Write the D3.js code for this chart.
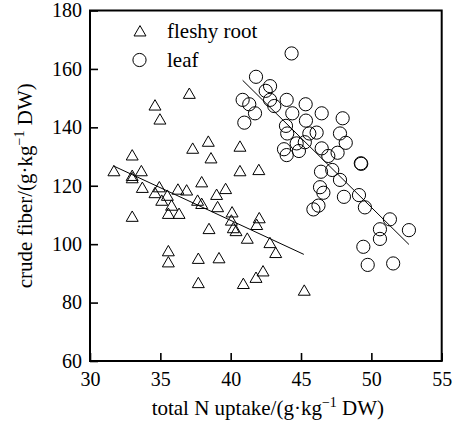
<!DOCTYPE html>
<html>
<head>
<meta charset="utf-8">
<script src="https://cdn.jsdelivr.net/npm/d3@7"></script>
<style>
  body { margin: 0; background: #fff; }
  svg { display: block; font-family: "Liberation Serif", "Times New Roman", serif; }
</style>
</head>
<body>
<div id="chart"></div>
<script>
// fleshy root: total N uptake vs crude fiber
var rootN = [31.7, 33.0, 33.0, 33.0, 33.0, 33.65, 33.72, 34.62, 34.97, 34.62, 34.93, 35.1, 35.5,
  35.57, 35.8, 36.33, 36.25, 36.87, 37.06, 37.3, 37.94, 37.65, 37.94, 35.57, 35.57, 37.7, 37.7,
  38.41, 38.6, 38.46, 39.0, 39.07, 39.17, 39.64, 40.1, 40.05, 40.19, 40.38, 40.66, 40.66, 41.18,
  40.9, 41.8, 42.0, 41.85, 42.03, 42.3, 42.79, 43.2, 45.23];
var rootFiber = [124.6, 130.0, 123.0, 122.2, 109.0, 124.6, 118.9, 147.1, 142.3, 117.1, 119.1, 114.5, 116.2,
  110.0, 112.8, 110.0, 118.3, 118.0, 151.1, 132.3, 120.8, 114.5, 113.4, 97.2, 93.4, 94.6, 86.3,
  134.7, 129.0, 104.8, 116.5, 112.3, 94.8, 118.5, 110.5, 107.7, 105.1, 104.1, 133.0, 124.6, 101.5,
  86.0, 88.1, 125.0, 106.2, 108.5, 90.3, 100.0, 96.6, 83.7];

// leaf
var leafN = [44.33, 41.8, 42.8, 42.49, 40.85, 41.32, 41.73, 40.97, 42.8, 43.1, 43.98, 44.38, 45.33,
  45.35, 46.47, 47.96, 43.93, 44.02, 45.59, 46.11, 43.79, 43.98, 44.69, 44.85, 45.27, 46.47, 46.94,
  47.6, 47.77, 48.18, 49.25, 49.28, 46.42, 47.22, 47.77, 46.35, 46.59, 46.24, 45.88, 48.05, 49.12, 49.54,
  50.61, 50.61, 51.32, 52.67, 49.43, 49.74, 51.55];
var leafFiber = [165.3, 157.3, 154.1, 152.5, 149.4, 147.9, 144.8, 141.6, 149.4, 147.3, 149.4, 144.8, 147.9,
  142.3, 144.8, 143.1, 140.5, 137.9, 137.9, 138.2, 132.5, 130.5, 134.5, 131.9, 134.9, 132.8, 130.2,
  131.3, 137.9, 134.7, 127.7, 127.5, 124.8, 125.4, 122.0, 119.5, 117.6, 113.2, 111.9, 116.2, 116.8, 112.6,
  105.1, 101.8, 108.5, 104.8, 99.1, 92.9, 93.4];

// fitted lines (end points)
var rootFitN = [31.66, 45.2];
var rootFitFiber = [126.8, 96.5];
var leafFitN = [40.85, 52.67];
var leafFitFiber = [156.1, 99.9];

var xTicks = [30, 35, 40, 45, 50, 55];
var yTicks = [60, 80, 100, 120, 140, 160, 180];

var width = 454, height = 431;
var margin = {top: 10.5, right: 12.3, bottom: 70, left: 90};

var svg = d3.select("#chart").append("svg")
  .attr("width", width)
  .attr("height", height);

var x = d3.scaleLinear().domain([30, 55]).range([margin.left, width - margin.right]);
var y = d3.scaleLinear().domain([60, 180]).range([height - margin.bottom, margin.top]);

// axes with inward ticks
var gx = svg.append("g")
  .attr("transform", "translate(0," + y(60) + ")")
  .call(d3.axisBottom(x).tickValues(xTicks).tickSize(-8).tickPadding(11));
var gy = svg.append("g")
  .attr("transform", "translate(" + x(30) + ",0)")
  .call(d3.axisLeft(y).tickValues(yTicks).tickSize(-8).tickPadding(8));

[gx, gy].forEach(function(g) {
  g.select(".domain").remove();
  g.selectAll(".tick line").attr("stroke", "#000").attr("stroke-width", 1.6);
  g.selectAll(".tick text")
    .attr("fill", "#000")
    .style("font-family", "'Liberation Serif', serif")
    .style("font-size", "20px");
});

// frame
svg.append("rect")
  .attr("x", x(30))
  .attr("y", y(180))
  .attr("width", x(55) - x(30))
  .attr("height", y(60) - y(180))
  .attr("fill", "none")
  .attr("stroke", "#000")
  .attr("stroke-width", 2);

// points
var rootData = rootN.map(function(d, i) { return {n: d, f: rootFiber[i]}; });
var leafData = leafN.map(function(d, i) { return {n: d, f: leafFiber[i]}; });

var tri = d3.symbol().type(d3.symbolTriangle).size(62);

svg.append("g").selectAll("path")
  .data(rootData)
  .enter().append("path")
    .attr("d", tri)
    .attr("transform", function(d) { return "translate(" + x(d.n) + "," + y(d.f) + ")"; })
    .attr("fill", "none")
    .attr("stroke", "#000")
    .attr("stroke-width", 1);

svg.append("g").selectAll("circle")
  .data(leafData)
  .enter().append("circle")
    .attr("cx", function(d) { return x(d.n); })
    .attr("cy", function(d) { return y(d.f); })
    .attr("r", 6.6)
    .attr("fill", "none")
    .attr("stroke", "#000")
    .attr("stroke-width", 1);

// fit lines
var line = d3.line()
  .x(function(d) { return x(d[0]); })
  .y(function(d) { return y(d[1]); });

svg.append("path")
  .attr("d", line(d3.zip(rootFitN, rootFitFiber)))
  .attr("fill", "none").attr("stroke", "#000").attr("stroke-width", 1);
svg.append("path")
  .attr("d", line(d3.zip(leafFitN, leafFitFiber)))
  .attr("fill", "none").attr("stroke", "#000").attr("stroke-width", 1);

// legend
var legend = svg.append("g").style("font-size", "21px");
legend.append("path")
  .attr("d", tri)
  .attr("transform", "translate(140,32.5)")
  .attr("fill", "none").attr("stroke", "#000");
legend.append("text").attr("x", 167).attr("y", 37.5).text("fleshy root");
legend.append("circle")
  .attr("cx", 139.5).attr("cy", 60).attr("r", 6.6)
  .attr("fill", "none").attr("stroke", "#000");
legend.append("text").attr("x", 167).attr("y", 67).text("leaf");

// axis titles
function unitLabel(t, name) {
  t.append("tspan").text(name + "/(g·kg");
  t.append("tspan").attr("dy", -8).style("font-size", "14px").text("\u22121");
  t.append("tspan").attr("dy", 8).text(" DW)");
}

var xt = svg.append("text")
  .attr("x", (x(30) + x(55)) / 2 + 2)
  .attr("y", 415)
  .attr("text-anchor", "middle")
  .style("font-size", "21px");
unitLabel(xt, "total N uptake");

var yt = svg.append("text")
  .attr("transform", "translate(32," + (y(60) + y(180)) / 2 + ") rotate(-90)")
  .attr("text-anchor", "middle")
  .style("font-size", "21px");
unitLabel(yt, "crude fiber");
</script>
</body>
</html>
